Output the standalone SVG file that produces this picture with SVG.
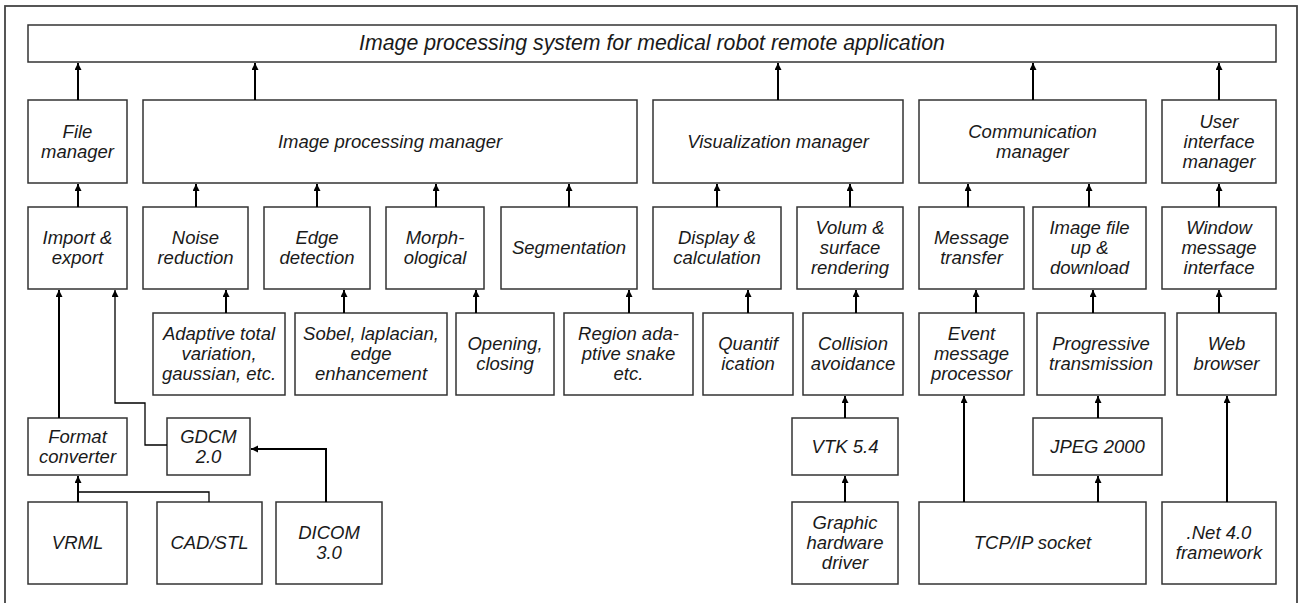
<svg xmlns="http://www.w3.org/2000/svg" width="1299" height="603" viewBox="0 0 1299 603">
<style>
.b{fill:#fff;stroke:#333;stroke-width:1.5}
.t{font-family:"Liberation Sans",Arial,sans-serif;font-style:italic;font-size:18.5px;fill:#1a1a1a;text-anchor:middle}
.c{fill:none;stroke:#000;stroke-width:2;marker-end:url(#ah)}
.j{fill:none;stroke:#000;stroke-width:1.3}
.thin{stroke-width:1.3}
</style>
<defs>
<marker id="ah" markerUnits="userSpaceOnUse" markerWidth="8" markerHeight="8" refX="7" refY="3.5" orient="auto">
<path d="M0,0 L7,3.5 L0,7 z" fill="#000"/>
</marker>
</defs>
<rect x="0" y="0" width="1299" height="603" fill="#fff"/>
<rect x="5" y="6" width="1292" height="620" fill="none" stroke="#444" stroke-width="1.8"/>

<g id="title"><rect class="b" x="28" y="25" width="1248" height="37"/><text class="t" x="652" y="50" style="font-size:21.3px">Image processing system for medical robot remote application</text></g>

<g id="file_manager"><rect class="b" x="28" y="100" width="99" height="83"/><text class="t" x="77.5" y="137.5">File</text><text class="t" x="77.5" y="157.5">manager</text></g>
<g id="image_processing_manager"><rect class="b" x="143" y="100" width="494" height="83"/><text class="t" x="390" y="147.5">Image processing manager</text></g>
<g id="visualization_manager"><rect class="b" x="653" y="100" width="250" height="83"/><text class="t" x="778" y="147.5">Visualization manager</text></g>
<g id="communication_manager"><rect class="b" x="919" y="100" width="227" height="83"/><text class="t" x="1032.5" y="137.5">Communication</text><text class="t" x="1032.5" y="157.5">manager</text></g>
<g id="ui_manager"><rect class="b" x="1162" y="100" width="114" height="83"/><text class="t" x="1219" y="127.5">User</text><text class="t" x="1219" y="147.5">interface</text><text class="t" x="1219" y="167.5">manager</text></g>

<g id="import_export"><rect class="b" x="28" y="207" width="99" height="82"/><text class="t" x="77.5" y="244">Import &amp;</text><text class="t" x="77.5" y="264">export</text></g>
<g id="noise_reduction"><rect class="b" x="143" y="207" width="105" height="82"/><text class="t" x="195.5" y="244">Noise</text><text class="t" x="195.5" y="264">reduction</text></g>
<g id="edge_detection"><rect class="b" x="264" y="207" width="106" height="82"/><text class="t" x="317" y="244">Edge</text><text class="t" x="317" y="264">detection</text></g>
<g id="morphological"><rect class="b" x="386" y="207" width="98" height="82"/><text class="t" x="435" y="244">Morph-</text><text class="t" x="435" y="264">ological</text></g>
<g id="segmentation"><rect class="b" x="501" y="207" width="136" height="82"/><text class="t" x="569" y="254">Segmentation</text></g>
<g id="display_calc"><rect class="b" x="653" y="207" width="128" height="82"/><text class="t" x="717" y="244">Display &amp;</text><text class="t" x="717" y="264">calculation</text></g>
<g id="volume_rendering"><rect class="b" x="797" y="207" width="106" height="82"/><text class="t" x="850" y="234">Volum &amp;</text><text class="t" x="850" y="254">surface</text><text class="t" x="850" y="274">rendering</text></g>
<g id="message_transfer"><rect class="b" x="919" y="207" width="105" height="82"/><text class="t" x="971.5" y="244">Message</text><text class="t" x="971.5" y="264">transfer</text></g>
<g id="image_file_updown"><rect class="b" x="1033" y="207" width="113" height="82"/><text class="t" x="1089.5" y="234">Image file</text><text class="t" x="1089.5" y="254">up &amp;</text><text class="t" x="1089.5" y="274">download</text></g>
<g id="window_message"><rect class="b" x="1162" y="207" width="114" height="82"/><text class="t" x="1219" y="234">Window</text><text class="t" x="1219" y="254">message</text><text class="t" x="1219" y="274">interface</text></g>

<g id="adaptive_tv"><rect class="b" x="153" y="313" width="132" height="82"/><text class="t" x="219" y="340">Adaptive total</text><text class="t" x="219" y="360">variation,</text><text class="t" x="219" y="380">gaussian, etc.</text></g>
<g id="sobel"><rect class="b" x="295" y="313" width="152" height="82"/><text class="t" x="371" y="340">Sobel, laplacian,</text><text class="t" x="371" y="360">edge</text><text class="t" x="371" y="380">enhancement</text></g>
<g id="opening_closing"><rect class="b" x="456" y="313" width="98" height="82"/><text class="t" x="505" y="350">Opening,</text><text class="t" x="505" y="370">closing</text></g>
<g id="region_snake"><rect class="b" x="564" y="313" width="129" height="82"/><text class="t" x="628.5" y="340">Region ada-</text><text class="t" x="628.5" y="360">ptive snake</text><text class="t" x="628.5" y="380">etc.</text></g>
<g id="quantification"><rect class="b" x="703" y="313" width="90" height="82"/><text class="t" x="748" y="350">Quantif</text><text class="t" x="748" y="370">ication</text></g>
<g id="collision_avoidance"><rect class="b" x="803" y="313" width="100" height="82"/><text class="t" x="853" y="350">Collision</text><text class="t" x="853" y="370">avoidance</text></g>
<g id="event_processor"><rect class="b" x="919" y="313" width="105" height="82"/><text class="t" x="971.5" y="340">Event</text><text class="t" x="971.5" y="360">message</text><text class="t" x="971.5" y="380">processor</text></g>
<g id="progressive_transmission"><rect class="b" x="1037" y="313" width="128" height="82"/><text class="t" x="1101" y="350">Progressive</text><text class="t" x="1101" y="370">transmission</text></g>
<g id="web_browser"><rect class="b" x="1177" y="313" width="99" height="82"/><text class="t" x="1226.5" y="350">Web</text><text class="t" x="1226.5" y="370">browser</text></g>

<g id="format_converter"><rect class="b" x="28" y="418" width="99" height="57"/><text class="t" x="77.5" y="442.5">Format</text><text class="t" x="77.5" y="462.5">converter</text></g>
<g id="gdcm"><rect class="b" x="167" y="418" width="83" height="57"/><text class="t" x="208.5" y="442.5">GDCM</text><text class="t" x="208.5" y="462.5">2.0</text></g>
<g id="vtk"><rect class="b" x="792" y="418" width="106" height="57"/><text class="t" x="845" y="452.5">VTK 5.4</text></g>
<g id="jpeg2000"><rect class="b" x="1033" y="418" width="129" height="57"/><text class="t" x="1097.5" y="452.5">JPEG 2000</text></g>

<g id="vrml"><rect class="b" x="28" y="502" width="99" height="82"/><text class="t" x="77.5" y="549">VRML</text></g>
<g id="cad_stl"><rect class="b" x="157" y="502" width="105" height="82"/><text class="t" x="209.5" y="549">CAD/STL</text></g>
<g id="dicom"><rect class="b" x="276" y="502" width="106" height="82"/><text class="t" x="329" y="539">DICOM</text><text class="t" x="329" y="559">3.0</text></g>
<g id="graphic_driver"><rect class="b" x="792" y="502" width="106" height="82"/><text class="t" x="845" y="529">Graphic</text><text class="t" x="845" y="549">hardware</text><text class="t" x="845" y="569">driver</text></g>
<g id="tcp_ip"><rect class="b" x="919" y="502" width="227" height="82"/><text class="t" x="1032.5" y="549">TCP/IP socket</text></g>
<g id="dotnet"><rect class="b" x="1162" y="502" width="114" height="82"/><text class="t" x="1219" y="539">.Net 4.0</text><text class="t" x="1219" y="559">framework</text></g>

<g id="connectors">
<path class="c" d="M78,100 V63"/>
<path class="c" d="M255,100 V63"/>
<path class="c" d="M778,100 V63"/>
<path class="c" d="M1033,100 V63"/>
<path class="c" d="M1219,100 V63"/>
<path class="c" d="M78,207 V184"/>
<path class="c" d="M196,207 V184"/>
<path class="c" d="M317,207 V184"/>
<path class="c" d="M436,207 V184"/>
<path class="c" d="M569,207 V184"/>
<path class="c" d="M717,207 V184"/>
<path class="c" d="M850,207 V184"/>
<path class="c" d="M968,207 V184"/>
<path class="c" d="M1089,207 V184"/>
<path class="c" d="M1219,207 V184"/>
<path class="c" d="M226,313 V290"/>
<path class="c" d="M344,313 V290"/>
<path class="c" d="M476,313 V290"/>
<path class="c" d="M629,313 V290"/>
<path class="c" d="M748,313 V290"/>
<path class="c" d="M856,313 V290"/>
<path class="c" d="M976,313 V290"/>
<path class="c" d="M1093,313 V290"/>
<path class="c" d="M1219,313 V290"/>
<path class="c" d="M59,418 V290"/>
<path class="c thin" d="M167,445 H145 V403 H115 V290"/>
<path class="c" d="M78,502 V476"/>
<path class="j" d="M209,502 V492 H78"/>
<path class="c" d="M326,502 V449 H251"/>
<path class="c" d="M845,418 V396"/>
<path class="c" d="M845,502 V476"/>
<path class="c" d="M964,502 V396"/>
<path class="c" d="M1098,418 V396"/>
<path class="c" d="M1098,502 V476"/>
<path class="c" d="M1227,502 V396"/>
</g>
</svg>
